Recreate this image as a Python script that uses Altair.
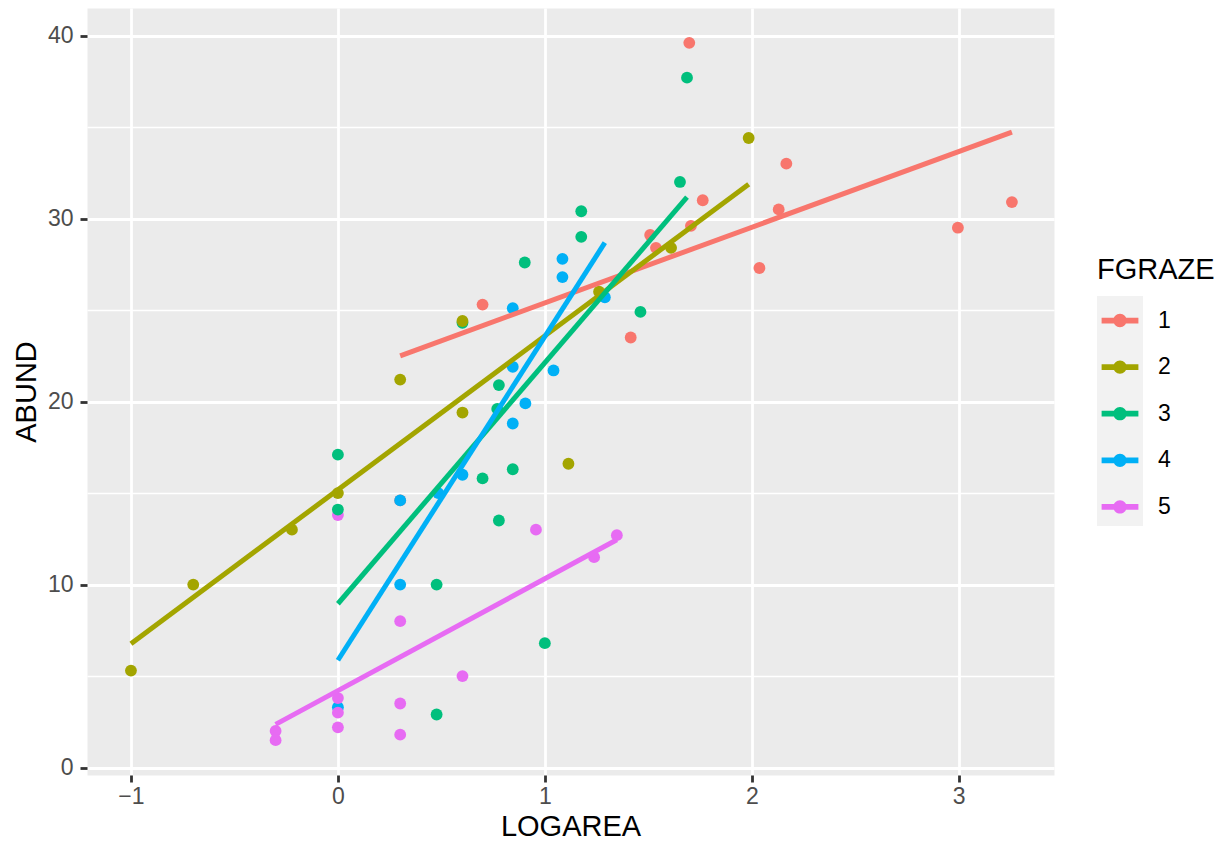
import altair as alt
import pandas as pd

# ---------------- data ----------------
GROUPS = ["1", "2", "3", "4", "5"]
COLORS = ["#F8766D", "#A3A500", "#00BF7D", "#00B0F6", "#E76BF3"]

logarea_g1 = [0.301, 0.699, 1.415, 1.509, 1.537, 1.706, 1.698, 1.763, 2.037, 2.130, 2.167, 2.996, 3.257]
abund_g1 = [14.6, 25.3, 23.5, 29.1, 28.4, 29.6, 39.6, 31.0, 27.3, 30.5, 33.0, 29.5, 30.9]

logarea_g2 = [-1.0, -0.699, -0.222, 0.0, 0.301, 0.602, 0.602, 1.114, 1.262, 1.610, 1.985]
abund_g2 = [5.3, 10.0, 13.0, 15.0, 21.2, 24.4, 19.4, 16.6, 26.0, 28.4, 34.4]

logarea_g3 = [0.0, 0.0, 0.477, 0.477, 0.602, 0.699, 0.778, 0.770, 0.778, 0.845, 0.903, 1.0,
              1.176, 1.176, 1.462, 1.653, 1.687]
abund_g3 = [17.1, 14.1, 10.0, 2.9, 24.3, 15.8, 20.9, 19.6, 13.5, 16.3, 27.6, 6.8,
            30.4, 29.0, 24.9, 32.0, 37.7]

logarea_g4 = [0.0, 0.301, 0.301, 0.485, 0.602, 0.845, 0.845, 0.845, 0.906, 1.042, 1.085, 1.085, 1.290]
abund_g4 = [3.3, 14.6, 10.0, 15.0, 16.0, 21.9, 18.8, 25.1, 19.9, 21.7, 27.8, 26.8, 25.7]

logarea_g5 = [-0.301, -0.301, 0.0, 0.0, 0.0, 0.0, 0.301, 0.301, 0.301, 0.602, 0.957, 1.238, 1.348]
abund_g5 = [2.0, 1.5, 13.8, 3.8, 3.0, 2.2, 8.0, 3.5, 1.8, 5.0, 13.0, 11.5, 12.7]

X_MAJOR = [-1, 0, 1, 2, 3]
X_MINOR = [-0.5, 0.5, 1.5, 2.5]
Y_MAJOR = [0, 10, 20, 30, 40]
Y_MINOR = [5, 15, 25, 35]


def frame(g, xs, ys):
    return pd.DataFrame({"LOGAREA": xs, "ABUND": ys, "FGRAZE": g})


# drawing order of the points (which point sits on top of which)
df_points = pd.concat(
    [
        frame("1", logarea_g1, abund_g1),
        frame("4", logarea_g4, abund_g4),
        frame("5", logarea_g5, abund_g5),
        frame("3", logarea_g3, abund_g3),
        frame("2", logarea_g2, abund_g2),
    ],
    ignore_index=True,
)
df_lines = df_points.sort_values("FGRAZE", kind="stable").reset_index(drop=True)

FONT = "Liberation Sans"

x_scale = alt.Scale(domain=[-1.2124, 3.4604], nice=False, zero=False)
y_scale = alt.Scale(domain=[-0.405, 41.505], nice=False, zero=False)
color_scale = alt.Scale(domain=GROUPS, range=COLORS)

x_axis = alt.Axis(
    values=sorted(X_MAJOR + X_MINOR),
    title="LOGAREA",
    format="d",
    grid=True,
    gridColor="white",
    gridWidth={"condition": {"test": "datum.value % 1 === 0", "value": 2.8}, "value": 1.4},
    tickOpacity={"condition": {"test": "datum.value % 1 !== 0", "value": 0}, "value": 1},
    labelExpr="datum.value % 1 === 0 ? datum.label : ''",
    domain=False,
    tickColor="#333333",
    tickWidth=2.8,
    tickSize=7,
    labelColor="#4D4D4D",
    labelFontSize=23,
    labelFont=FONT,
    labelPadding=3,
    labelOverlap=False,
    labelFlush=False,
    titleFont=FONT,
    titleFontSize=29,
    titleFontWeight="normal",
    titleColor="black",
    titlePadding=4,
)

y_axis = alt.Axis(
    values=sorted(Y_MAJOR + Y_MINOR),
    title="ABUND",
    format="d",
    grid=True,
    gridColor="white",
    gridWidth={"condition": {"test": "datum.value % 10 === 0", "value": 2.8}, "value": 1.4},
    tickOpacity={"condition": {"test": "datum.value % 10 !== 0", "value": 0}, "value": 1},
    labelExpr="datum.value % 10 === 0 ? datum.label : ''",
    domain=False,
    tickColor="#333333",
    tickWidth=2.8,
    tickSize=7,
    labelColor="#4D4D4D",
    labelFontSize=23,
    labelFont=FONT,
    labelPadding=7,
    labelOverlap=False,
    labelFlush=False,
    titleFont=FONT,
    titleFontSize=29,
    titleFontWeight="normal",
    titleColor="black",
    titlePadding=6,
)

KEY_PATH = ("M-0.8,-0.125 L0.8,-0.125 L0.8,0.125 L-0.8,0.125 Z "
            "M0.29,0 A0.29,0.29 0 1,1 -0.29,0 A0.29,0.29 0 1,1 0.29,0 Z")

color_legend = alt.Legend(
    title="FGRAZE",
    orient="none",
    legendX=1010,
    legendY=248,
    symbolType=KEY_PATH,
    symbolSize=2116,
    symbolStrokeWidth=0,
    symbolOpacity=1,
    rowPadding=11.6,
    labelOffset=15,
    labelFontSize=23,
    labelFont=FONT,
    labelColor="black",
    titleFont=FONT,
    titleFontSize=29,
    titleFontWeight="normal",
    titleColor="black",
    titlePadding=12.5,
    padding=0,
    zindex=2,
)

# grey key background column (legend keys of ggplot)
key_legend = alt.Legend(
    title=None,
    orient="none",
    legendX=1010,
    legendY=288,
    symbolType="square",
    symbolSize=2116,
    symbolFillColor="#F2F2F2",
    symbolStrokeWidth=0,
    symbolOpacity=1,
    rowPadding=0,
    labelExpr="''",
    labelFontSize=1,
    labelOffset=0,
    padding=0,
    zindex=1,
)

X = alt.X("LOGAREA:Q", scale=x_scale, axis=x_axis)
Y = alt.Y("ABUND:Q", scale=y_scale, axis=y_axis)

points = alt.Chart(df_points).mark_circle(size=140, opacity=1).encode(
    x=X,
    y=Y,
    color=alt.Color("FGRAZE:N", scale=color_scale, legend=color_legend),
)

lines = (
    alt.Chart(df_lines)
    .transform_regression("LOGAREA", "ABUND", groupby=["FGRAZE"])
    .mark_line(strokeWidth=5)
    .encode(
        x=X,
        y=Y,
        color=alt.Color("FGRAZE:N", scale=color_scale, legend=color_legend),
    )
)

keys = (
    alt.Chart(df_points)
    .transform_filter("false")
    .transform_calculate(KEY="'k' + datum.FGRAZE")
    .mark_square(color="#F2F2F2")
    .encode(
        x=X,
        y=Y,
        opacity=alt.Opacity(
            "KEY:O",
            scale=alt.Scale(domain=["k" + g for g in GROUPS], range=[1, 1, 1, 1, 1]),
            legend=key_legend,
        ),
    )
)

chart = (
    alt.layer(points, lines, keys)
    .properties(
        width=967,
        height=767,
        background="white",
        padding={"left": 4, "top": 0, "right": 2, "bottom": 0},
    )
    .configure_view(fill="#EBEBEB", stroke="transparent")
)

chart.save("out.html", embed_options={"renderer": "svg", "actions": False})
